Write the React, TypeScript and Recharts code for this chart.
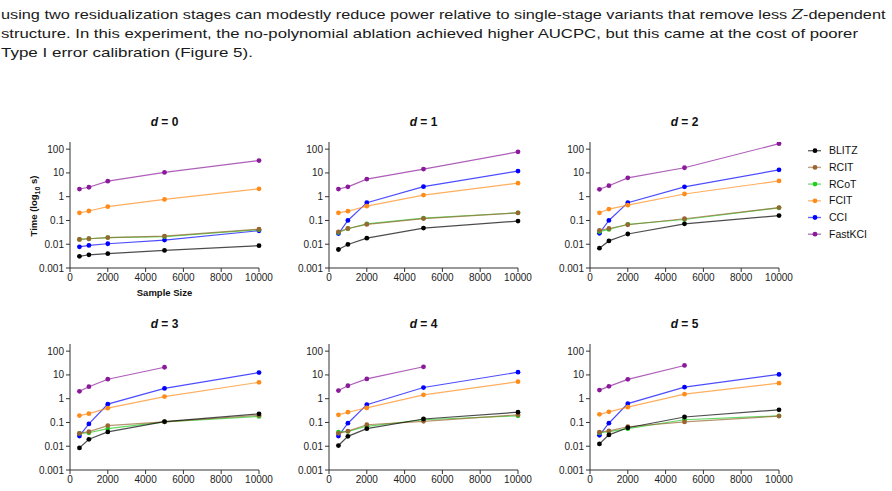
import React, { useLayoutEffect, useRef, useState } from 'react';
import { LineChart, Line, XAxis, YAxis } from 'recharts';

// sample sizes on the x axis
const sampleSizes = [500, 1000, 2000, 5000, 10000];
const dimensions = [0, 1, 2, 3, 4, 5];
const xTicks = [0, 2000, 4000, 6000, 8000, 10000];
const yTicks = [0.001, 0.01, 0.1, 1, 10, 100];

// runtimes in seconds, one row per d
const blitz = [
  [0.0031, 0.0036, 0.004, 0.0055, 0.0087],
  [0.006, 0.0098, 0.018, 0.048, 0.094],
  [0.0068, 0.0138, 0.027, 0.072, 0.16],
  [0.0085, 0.0196, 0.04, 0.109, 0.23],
  [0.0107, 0.026, 0.055, 0.14, 0.27],
  [0.0125, 0.03, 0.06, 0.17, 0.34],
];
const rcit = [
  [0.016, 0.017, 0.019, 0.022, 0.043],
  [0.033, 0.046, 0.068, 0.12, 0.21],
  [0.038, 0.046, 0.066, 0.118, 0.35],
  [0.035, 0.041, 0.074, 0.105, 0.2],
  [0.035, 0.043, 0.08, 0.112, 0.21],
  [0.039, 0.044, 0.066, 0.105, 0.185],
];
const rcot = [
  [0.016, 0.017, 0.019, 0.021, 0.041],
  [0.031, 0.045, 0.072, 0.125, 0.21],
  [0.034, 0.042, 0.069, 0.11, 0.34],
  [0.035, 0.037, 0.055, 0.105, 0.18],
  [0.039, 0.042, 0.069, 0.13, 0.19],
  [0.037, 0.041, 0.055, 0.13, 0.19],
];
const fcit = [
  [0.21, 0.25, 0.38, 0.77, 2.15],
  [0.21, 0.245, 0.4, 1.17, 3.7],
  [0.21, 0.3, 0.44, 1.3, 4.6],
  [0.195, 0.235, 0.4, 1.23, 4.9],
  [0.21, 0.27, 0.41, 1.45, 5.2],
  [0.22, 0.28, 0.44, 1.55, 4.5],
];
const cci = [
  [0.0078, 0.0089, 0.0105, 0.015, 0.037],
  [0.028, 0.1, 0.56, 2.65, 12],
  [0.029, 0.1, 0.56, 2.6, 13.5],
  [0.027, 0.087, 0.59, 2.7, 12.6],
  [0.027, 0.093, 0.56, 2.95, 13],
  [0.029, 0.093, 0.62, 3.05, 10.5],
];
const fastkci = [
  [2.1, 2.5, 4.5, 10.5, 33],
  [2.1, 2.6, 5.5, 14.5, 77],
  [2.05, 2.9, 6.2, 16.5, 170],
  [2.05, 3.2, 6.6, 21, null],
  [2.2, 3.5, 6.8, 22, null],
  [2.3, 3.3, 6.5, 25, null],
];

const methods = [
  { name: 'BLITZ', color: '#000000', values: blitz },
  { name: 'RCIT', color: '#996633', values: rcit },
  { name: 'RCoT', color: '#22cc22', values: rcot },
  { name: 'FCIT', color: '#ff8c1a', values: fcit },
  { name: 'CCI', color: '#0000ff', values: cci },
  { name: 'FastKCI', color: '#8b1a9b', values: fastkci },
];

const FONT = '"Liberation Sans", Arial, sans-serif';
const PLOT_W = 189;
const PLOT_H = 126;
const PLOT_LEFT = [70, 329, 590];
const PLOT_TOP = [142, 344];
const M = { top: 5, right: 22, bottom: 5, left: 10 };
const Y_AXIS_W = 40;

const buildRows = (d: number) =>
  sampleSizes.map((n, i) => {
    const row: Record<string, number | null> = { n };
    methods.forEach((m) => {
      row[m.name] = m.values[d][i];
    });
    return row;
  });

const tickStyle = { fill: '#222', fontSize: 10, fontFamily: FONT };

const Panel = ({ d }: { d: number }) => {
  const col = d % 3;
  const rowIdx = Math.floor(d / 3);
  const plotLeft = PLOT_LEFT[col];
  const plotTop = PLOT_TOP[rowIdx];
  const width = M.left + Y_AXIS_W + PLOT_W + M.right;
  const height = M.top + PLOT_H + 22 + M.bottom;
  // draw BLITZ last so it sits on top
  const drawOrder = [...methods].reverse();
  return (
    <>
      <div
        style={{
          position: 'absolute',
          left: plotLeft,
          width: PLOT_W,
          top: plotTop - 27,
          textAlign: 'center',
          fontFamily: FONT,
          fontWeight: 'bold',
          fontSize: 12,
          color: '#111',
        }}
      >
        <i>d</i> = {d}
      </div>
      <div style={{ position: 'absolute', left: plotLeft - M.left - Y_AXIS_W, top: plotTop - M.top }}>
        <LineChart width={width} height={height} data={buildRows(d)} margin={M}>
          <XAxis
            dataKey="n"
            type="number"
            domain={[0, 10000]}
            ticks={xTicks}
            tickSize={4}
            tickMargin={2}
            height={22}
            interval={0}
            stroke="#333"
            tick={tickStyle}
          />
          <YAxis
            type="number"
            scale="log"
            domain={[0.001, 200]}
            allowDataOverflow
            ticks={yTicks}
            tickSize={4}
            tickMargin={2}
            width={Y_AXIS_W}
            interval={0}
            stroke="#333"
            tick={tickStyle}
            tickFormatter={(v: number) => String(v)}
          />
          {drawOrder.map((m) => (
            <Line
              key={m.name}
              type="linear"
              dataKey={m.name}
              stroke={m.color}
              strokeOpacity={0.7}
              strokeWidth={1.2}
              dot={{ r: 2.4, fill: m.color, stroke: 'none' }}
              activeDot={false}
              isAnimationActive={false}
            />
          ))}
        </LineChart>
      </div>
    </>
  );
};

// one line of body text, squeezed horizontally to a fixed width
const FitLine = ({ width, baseline, children }: { width: number; baseline: number; children: React.ReactNode }) => {
  const ref = useRef<HTMLSpanElement>(null);
  const [scale, setScale] = useState(1);
  useLayoutEffect(() => {
    if (ref.current && ref.current.offsetWidth > 0) setScale(width / ref.current.offsetWidth);
  }, [width]);
  return (
    <span
      ref={ref}
      style={{
        position: 'absolute',
        left: 1,
        top: baseline - 12.5,
        lineHeight: '16px',
        fontSize: 13,
        fontFamily: FONT,
        color: '#1a1a1a',
        whiteSpace: 'nowrap',
        transform: `scaleX(${scale})`,
        transformOrigin: '0 0',
      }}
    >
      {children}
    </span>
  );
};

const Paragraph = () => (
  <>
    <FitLine width={884} baseline={19}>
      using two residualization stages can modestly reduce power relative to single-stage variants that remove less{' '}
      <span style={{ fontFamily: '"DejaVu Serif", serif', fontStyle: 'italic' }}>Z</span>-dependent
    </FitLine>
    <FitLine width={857} baseline={38}>
      structure. In this experiment, the no-polynomial ablation achieved higher AUCPC, but this came at the cost of poorer
    </FitLine>
    <FitLine width={252} baseline={57}>
      Type I error calibration (Figure 5).
    </FitLine>
  </>
);

const LegendBox = () => (
  <svg width={90} height={100} style={{ position: 'absolute', left: 804, top: 142 }}>
    {methods.map((m, i) => {
      const y = 8.7 + i * 16.7;
      return (
        <g key={m.name}>
          <line x1={4} x2={17} y1={y} y2={y} stroke={m.color} strokeOpacity={0.6} strokeWidth={1.4} />
          <circle cx={11} cy={y} r={2.4} fill={m.color} />
          <text x={25} y={y + 3.6} fontFamily={FONT} fontSize={10.5} fill="#111">
            {m.name}
          </text>
        </g>
      );
    })}
  </svg>
);

export default function App() {
  return (
    <div
      style={{
        position: 'fixed',
        left: 0,
        top: 0,
        width: 892,
        height: 491,
        overflow: 'hidden',
        background: '#fff',
      }}
    >
      <Paragraph />
      {dimensions.map((d) => (
        <Panel key={d} d={d} />
      ))}
      {/* axis titles, first panel only */}
      <div
        style={{
          position: 'absolute',
          left: PLOT_LEFT[0],
          width: PLOT_W,
          top: 287,
          textAlign: 'center',
          fontFamily: FONT,
          fontWeight: 'bold',
          fontSize: 9.5,
          color: '#111',
        }}
      >
        Sample Size
      </div>
      <svg width={20} height={140} style={{ position: 'absolute', left: 24, top: 136 }}>
        <text
          transform="translate(13,70) rotate(-90)"
          textAnchor="middle"
          fontFamily={FONT}
          fontWeight="bold"
          fontSize={9.5}
          fill="#111"
        >
          Time (log<tspan fontSize={7} dy={2.5}>10</tspan>
          <tspan dy={-2.5}> s)</tspan>
        </text>
      </svg>
      <LegendBox />
    </div>
  );
}
